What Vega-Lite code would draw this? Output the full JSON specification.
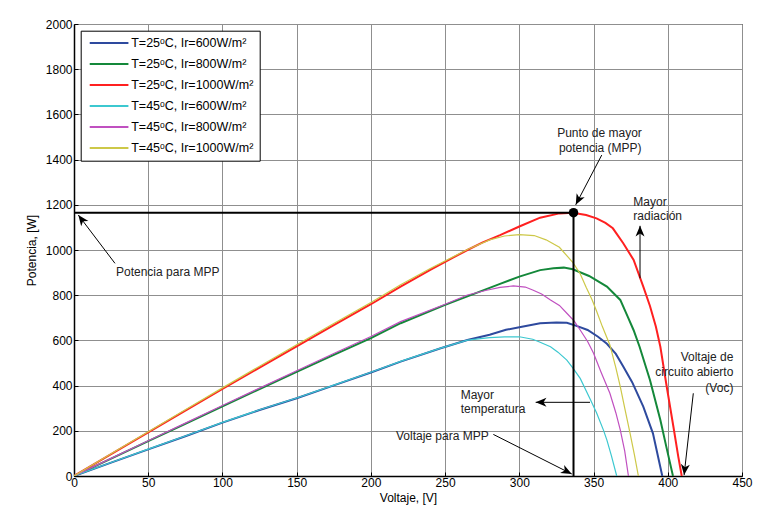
{
  "$schema": "https://vega.github.io/schema/vega-lite/v6.json",
  "width": 668,
  "height": 452,
  "autosize": {"type": "none"},
  "padding": {"left": 74, "top": 24, "right": 24, "bottom": 36},
  "background": "white",
  "config": {
    "font": "Liberation Sans",
    "view": {"stroke": "black", "strokeWidth": 1},
    "axis": {
      "grid": true, "gridColor": "#8f8f8f", "gridWidth": 1,
      "domainColor": "black", "domainWidth": 1.5,
      "tickColor": "black", "tickSize": -4,
      "labelFont": "Liberation Sans", "labelFontSize": 12, "labelColor": "black",
      "titleFont": "Liberation Sans", "titleFontSize": 12, "titleFontWeight": "normal", "titleColor": "black",
      "labelFlush": false
    },
    "legend": {
      "orient": "none", "legendX": 6.7, "legendY": 6.7,
      "symbolType": "M-1,0 L11,0", "symbolSize": 41.6, "symbolStrokeWidth": 2,
      "labelFont": "Liberation Sans", "labelFontSize": 12.5, "labelColor": "black",
      "strokeColor": "black", "fillColor": "white", "padding": 6, "rowPadding": 8, "labelOffset": 32
    }
  },
  "datasets": {
    "curves": [
      {"s":"T=25ᵒC, Ir=600W/m²","T":25,"V":0,"P":0},{"s":"T=25ᵒC, Ir=600W/m²","T":25,"V":25,"P":59},{"s":"T=25ᵒC, Ir=600W/m²","T":25,"V":50,"P":118},{"s":"T=25ᵒC, Ir=600W/m²","T":25,"V":75,"P":176},{"s":"T=25ᵒC, Ir=600W/m²","T":25,"V":100,"P":236},{"s":"T=25ᵒC, Ir=600W/m²","T":25,"V":125,"P":292},{"s":"T=25ᵒC, Ir=600W/m²","T":25,"V":150,"P":344},{"s":"T=25ᵒC, Ir=600W/m²","T":25,"V":175,"P":401},{"s":"T=25ᵒC, Ir=600W/m²","T":25,"V":200,"P":458},{"s":"T=25ᵒC, Ir=600W/m²","T":25,"V":220,"P":506},{"s":"T=25ᵒC, Ir=600W/m²","T":25,"V":247,"P":565},{"s":"T=25ᵒC, Ir=600W/m²","T":25,"V":265,"P":602},{"s":"T=25ᵒC, Ir=600W/m²","T":25,"V":280,"P":625},{"s":"T=25ᵒC, Ir=600W/m²","T":25,"V":291,"P":647},{"s":"T=25ᵒC, Ir=600W/m²","T":25,"V":300,"P":658},{"s":"T=25ᵒC, Ir=600W/m²","T":25,"V":314,"P":676},{"s":"T=25ᵒC, Ir=600W/m²","T":25,"V":325,"P":679},{"s":"T=25ᵒC, Ir=600W/m²","T":25,"V":332,"P":678},{"s":"T=25ᵒC, Ir=600W/m²","T":25,"V":339,"P":663},{"s":"T=25ᵒC, Ir=600W/m²","T":25,"V":346,"P":646},{"s":"T=25ᵒC, Ir=600W/m²","T":25,"V":353,"P":616},{"s":"T=25ᵒC, Ir=600W/m²","T":25,"V":359,"P":585},{"s":"T=25ᵒC, Ir=600W/m²","T":25,"V":365,"P":540},{"s":"T=25ᵒC, Ir=600W/m²","T":25,"V":370,"P":484},{"s":"T=25ᵒC, Ir=600W/m²","T":25,"V":376,"P":415},{"s":"T=25ᵒC, Ir=600W/m²","T":25,"V":383.5,"P":307},{"s":"T=25ᵒC, Ir=600W/m²","T":25,"V":390,"P":189},{"s":"T=25ᵒC, Ir=600W/m²","T":25,"V":396.3,"P":0},
      {"s":"T=25ᵒC, Ir=800W/m²","T":25,"V":0,"P":0},{"s":"T=25ᵒC, Ir=800W/m²","T":25,"V":25,"P":77},{"s":"T=25ᵒC, Ir=800W/m²","T":25,"V":50,"P":154},{"s":"T=25ᵒC, Ir=800W/m²","T":25,"V":75,"P":231},{"s":"T=25ᵒC, Ir=800W/m²","T":25,"V":100,"P":308},{"s":"T=25ᵒC, Ir=800W/m²","T":25,"V":125,"P":385},{"s":"T=25ᵒC, Ir=800W/m²","T":25,"V":150,"P":461},{"s":"T=25ᵒC, Ir=800W/m²","T":25,"V":175,"P":536},{"s":"T=25ᵒC, Ir=800W/m²","T":25,"V":200,"P":610},{"s":"T=25ᵒC, Ir=800W/m²","T":25,"V":220,"P":676},{"s":"T=25ᵒC, Ir=800W/m²","T":25,"V":250,"P":757},{"s":"T=25ᵒC, Ir=800W/m²","T":25,"V":265,"P":795},{"s":"T=25ᵒC, Ir=800W/m²","T":25,"V":287,"P":850},{"s":"T=25ᵒC, Ir=800W/m²","T":25,"V":300,"P":882},{"s":"T=25ᵒC, Ir=800W/m²","T":25,"V":314,"P":911},{"s":"T=25ᵒC, Ir=800W/m²","T":25,"V":323,"P":919},{"s":"T=25ᵒC, Ir=800W/m²","T":25,"V":330,"P":922},{"s":"T=25ᵒC, Ir=800W/m²","T":25,"V":336,"P":915},{"s":"T=25ᵒC, Ir=800W/m²","T":25,"V":347,"P":885},{"s":"T=25ᵒC, Ir=800W/m²","T":25,"V":359,"P":838},{"s":"T=25ᵒC, Ir=800W/m²","T":25,"V":368,"P":779},{"s":"T=25ᵒC, Ir=800W/m²","T":25,"V":373,"P":705},{"s":"T=25ᵒC, Ir=800W/m²","T":25,"V":377,"P":645},{"s":"T=25ᵒC, Ir=800W/m²","T":25,"V":381,"P":572},{"s":"T=25ᵒC, Ir=800W/m²","T":25,"V":388,"P":425},{"s":"T=25ᵒC, Ir=800W/m²","T":25,"V":395,"P":248},{"s":"T=25ᵒC, Ir=800W/m²","T":25,"V":399,"P":130},{"s":"T=25ᵒC, Ir=800W/m²","T":25,"V":403.5,"P":0},
      {"s":"T=25ᵒC, Ir=1000W/m²","T":25,"V":0,"P":0},{"s":"T=25ᵒC, Ir=1000W/m²","T":25,"V":25,"P":97},{"s":"T=25ᵒC, Ir=1000W/m²","T":25,"V":50,"P":193},{"s":"T=25ᵒC, Ir=1000W/m²","T":25,"V":75,"P":289},{"s":"T=25ᵒC, Ir=1000W/m²","T":25,"V":100,"P":385},{"s":"T=25ᵒC, Ir=1000W/m²","T":25,"V":125,"P":480},{"s":"T=25ᵒC, Ir=1000W/m²","T":25,"V":150,"P":574},{"s":"T=25ᵒC, Ir=1000W/m²","T":25,"V":175,"P":668},{"s":"T=25ᵒC, Ir=1000W/m²","T":25,"V":200,"P":760},{"s":"T=25ᵒC, Ir=1000W/m²","T":25,"V":220,"P":838},{"s":"T=25ᵒC, Ir=1000W/m²","T":25,"V":240,"P":912},{"s":"T=25ᵒC, Ir=1000W/m²","T":25,"V":255,"P":965},{"s":"T=25ᵒC, Ir=1000W/m²","T":25,"V":265,"P":1000},{"s":"T=25ᵒC, Ir=1000W/m²","T":25,"V":275,"P":1033},{"s":"T=25ᵒC, Ir=1000W/m²","T":25,"V":287,"P":1066},{"s":"T=25ᵒC, Ir=1000W/m²","T":25,"V":300,"P":1104},{"s":"T=25ᵒC, Ir=1000W/m²","T":25,"V":314,"P":1143},{"s":"T=25ᵒC, Ir=1000W/m²","T":25,"V":327,"P":1162},{"s":"T=25ᵒC, Ir=1000W/m²","T":25,"V":336,"P":1165},{"s":"T=25ᵒC, Ir=1000W/m²","T":25,"V":345,"P":1155},{"s":"T=25ᵒC, Ir=1000W/m²","T":25,"V":352,"P":1140},{"s":"T=25ᵒC, Ir=1000W/m²","T":25,"V":358,"P":1120},{"s":"T=25ᵒC, Ir=1000W/m²","T":25,"V":363,"P":1096},{"s":"T=25ᵒC, Ir=1000W/m²","T":25,"V":370,"P":1030},{"s":"T=25ᵒC, Ir=1000W/m²","T":25,"V":377,"P":956},{"s":"T=25ᵒC, Ir=1000W/m²","T":25,"V":383.5,"P":838},{"s":"T=25ᵒC, Ir=1000W/m²","T":25,"V":388,"P":752},{"s":"T=25ᵒC, Ir=1000W/m²","T":25,"V":392,"P":660},{"s":"T=25ᵒC, Ir=1000W/m²","T":25,"V":395,"P":572},{"s":"T=25ᵒC, Ir=1000W/m²","T":25,"V":399.3,"P":395},{"s":"T=25ᵒC, Ir=1000W/m²","T":25,"V":403.8,"P":218},{"s":"T=25ᵒC, Ir=1000W/m²","T":25,"V":407.1,"P":85},{"s":"T=25ᵒC, Ir=1000W/m²","T":25,"V":409.4,"P":0},
      {"s":"T=45ᵒC, Ir=600W/m²","T":45,"V":0,"P":0},{"s":"T=45ᵒC, Ir=600W/m²","T":45,"V":25,"P":60},{"s":"T=45ᵒC, Ir=600W/m²","T":45,"V":50,"P":119},{"s":"T=45ᵒC, Ir=600W/m²","T":45,"V":75,"P":177},{"s":"T=45ᵒC, Ir=600W/m²","T":45,"V":100,"P":237},{"s":"T=45ᵒC, Ir=600W/m²","T":45,"V":125,"P":293},{"s":"T=45ᵒC, Ir=600W/m²","T":45,"V":150,"P":345},{"s":"T=45ᵒC, Ir=600W/m²","T":45,"V":175,"P":402},{"s":"T=45ᵒC, Ir=600W/m²","T":45,"V":200,"P":459},{"s":"T=45ᵒC, Ir=600W/m²","T":45,"V":220,"P":507},{"s":"T=45ᵒC, Ir=600W/m²","T":45,"V":247,"P":566},{"s":"T=45ᵒC, Ir=600W/m²","T":45,"V":265,"P":601},{"s":"T=45ᵒC, Ir=600W/m²","T":45,"V":280,"P":612},{"s":"T=45ᵒC, Ir=600W/m²","T":45,"V":290,"P":616},{"s":"T=45ᵒC, Ir=600W/m²","T":45,"V":300,"P":616},{"s":"T=45ᵒC, Ir=600W/m²","T":45,"V":309,"P":605},{"s":"T=45ᵒC, Ir=600W/m²","T":45,"V":314,"P":592},{"s":"T=45ᵒC, Ir=600W/m²","T":45,"V":321,"P":572},{"s":"T=45ᵒC, Ir=600W/m²","T":45,"V":326,"P":548},{"s":"T=45ᵒC, Ir=600W/m²","T":45,"V":332,"P":513},{"s":"T=45ᵒC, Ir=600W/m²","T":45,"V":336,"P":478},{"s":"T=45ᵒC, Ir=600W/m²","T":45,"V":341,"P":432},{"s":"T=45ᵒC, Ir=600W/m²","T":45,"V":348,"P":336},{"s":"T=45ᵒC, Ir=600W/m²","T":45,"V":352,"P":280},{"s":"T=45ᵒC, Ir=600W/m²","T":45,"V":356.6,"P":204},{"s":"T=45ᵒC, Ir=600W/m²","T":45,"V":359,"P":159},{"s":"T=45ᵒC, Ir=600W/m²","T":45,"V":362,"P":90},{"s":"T=45ᵒC, Ir=600W/m²","T":45,"V":365.6,"P":0},
      {"s":"T=45ᵒC, Ir=800W/m²","T":45,"V":0,"P":0},{"s":"T=45ᵒC, Ir=800W/m²","T":45,"V":25,"P":78},{"s":"T=45ᵒC, Ir=800W/m²","T":45,"V":50,"P":156},{"s":"T=45ᵒC, Ir=800W/m²","T":45,"V":75,"P":234},{"s":"T=45ᵒC, Ir=800W/m²","T":45,"V":100,"P":312},{"s":"T=45ᵒC, Ir=800W/m²","T":45,"V":125,"P":389},{"s":"T=45ᵒC, Ir=800W/m²","T":45,"V":150,"P":466},{"s":"T=45ᵒC, Ir=800W/m²","T":45,"V":175,"P":542},{"s":"T=45ᵒC, Ir=800W/m²","T":45,"V":200,"P":617},{"s":"T=45ᵒC, Ir=800W/m²","T":45,"V":220,"P":683},{"s":"T=45ᵒC, Ir=800W/m²","T":45,"V":250,"P":760},{"s":"T=45ᵒC, Ir=800W/m²","T":45,"V":265,"P":801},{"s":"T=45ᵒC, Ir=800W/m²","T":45,"V":278,"P":822},{"s":"T=45ᵒC, Ir=800W/m²","T":45,"V":287,"P":835},{"s":"T=45ᵒC, Ir=800W/m²","T":45,"V":296,"P":841},{"s":"T=45ᵒC, Ir=800W/m²","T":45,"V":304,"P":836},{"s":"T=45ᵒC, Ir=800W/m²","T":45,"V":309,"P":823},{"s":"T=45ᵒC, Ir=800W/m²","T":45,"V":315,"P":805},{"s":"T=45ᵒC, Ir=800W/m²","T":45,"V":321,"P":779},{"s":"T=45ᵒC, Ir=800W/m²","T":45,"V":327,"P":755},{"s":"T=45ᵒC, Ir=800W/m²","T":45,"V":332,"P":720},{"s":"T=45ᵒC, Ir=800W/m²","T":45,"V":337,"P":685},{"s":"T=45ᵒC, Ir=800W/m²","T":45,"V":341,"P":646},{"s":"T=45ᵒC, Ir=800W/m²","T":45,"V":346,"P":595},{"s":"T=45ᵒC, Ir=800W/m²","T":45,"V":350,"P":543},{"s":"T=45ᵒC, Ir=800W/m²","T":45,"V":355,"P":460},{"s":"T=45ᵒC, Ir=800W/m²","T":45,"V":361,"P":366},{"s":"T=45ᵒC, Ir=800W/m²","T":45,"V":365,"P":280},{"s":"T=45ᵒC, Ir=800W/m²","T":45,"V":368,"P":204},{"s":"T=45ᵒC, Ir=800W/m²","T":45,"V":371,"P":110},{"s":"T=45ᵒC, Ir=800W/m²","T":45,"V":373.5,"P":0},
      {"s":"T=45ᵒC, Ir=1000W/m²","T":45,"V":0,"P":0},{"s":"T=45ᵒC, Ir=1000W/m²","T":45,"V":25,"P":98},{"s":"T=45ᵒC, Ir=1000W/m²","T":45,"V":50,"P":196},{"s":"T=45ᵒC, Ir=1000W/m²","T":45,"V":75,"P":293},{"s":"T=45ᵒC, Ir=1000W/m²","T":45,"V":100,"P":390},{"s":"T=45ᵒC, Ir=1000W/m²","T":45,"V":125,"P":486},{"s":"T=45ᵒC, Ir=1000W/m²","T":45,"V":150,"P":581},{"s":"T=45ᵒC, Ir=1000W/m²","T":45,"V":175,"P":675},{"s":"T=45ᵒC, Ir=1000W/m²","T":45,"V":200,"P":768},{"s":"T=45ᵒC, Ir=1000W/m²","T":45,"V":220,"P":846},{"s":"T=45ᵒC, Ir=1000W/m²","T":45,"V":240,"P":918},{"s":"T=45ᵒC, Ir=1000W/m²","T":45,"V":265,"P":1002},{"s":"T=45ᵒC, Ir=1000W/m²","T":45,"V":280,"P":1045},{"s":"T=45ᵒC, Ir=1000W/m²","T":45,"V":290,"P":1062},{"s":"T=45ᵒC, Ir=1000W/m²","T":45,"V":300,"P":1068},{"s":"T=45ᵒC, Ir=1000W/m²","T":45,"V":310,"P":1064},{"s":"T=45ᵒC, Ir=1000W/m²","T":45,"V":318,"P":1045},{"s":"T=45ᵒC, Ir=1000W/m²","T":45,"V":327,"P":1012},{"s":"T=45ᵒC, Ir=1000W/m²","T":45,"V":336,"P":945},{"s":"T=45ᵒC, Ir=1000W/m²","T":45,"V":341,"P":895},{"s":"T=45ᵒC, Ir=1000W/m²","T":45,"V":345,"P":835},{"s":"T=45ᵒC, Ir=1000W/m²","T":45,"V":349,"P":780},{"s":"T=45ᵒC, Ir=1000W/m²","T":45,"V":352,"P":730},{"s":"T=45ᵒC, Ir=1000W/m²","T":45,"V":356,"P":660},{"s":"T=45ᵒC, Ir=1000W/m²","T":45,"V":361,"P":580},{"s":"T=45ᵒC, Ir=1000W/m²","T":45,"V":365,"P":480},{"s":"T=45ᵒC, Ir=1000W/m²","T":45,"V":368,"P":395},{"s":"T=45ᵒC, Ir=1000W/m²","T":45,"V":371,"P":300},{"s":"T=45ᵒC, Ir=1000W/m²","T":45,"V":374.6,"P":189},{"s":"T=45ᵒC, Ir=1000W/m²","T":45,"V":377.5,"P":95},{"s":"T=45ᵒC, Ir=1000W/m²","T":45,"V":380.2,"P":0}
    ],
    "mpp": [
      {"V":0,"P":1165,"V2":336.5,"P2":1165},
      {"V":336.5,"P":0,"V2":336.5,"P2":1165}
    ],
    "dot": [{"V":336.5,"P":1165}],
    "arrows": [
      {"V":355.5,"P":1420,"V2":338,"P2":1200},
      {"V":381.3,"P":875,"V2":381.3,"P2":1107},
      {"V":347.6,"P":326,"V2":311,"P2":326},
      {"V":282.5,"P":184,"V2":335.3,"P2":9},
      {"V":27.6,"P":941,"V2":2.9,"P2":1155},
      {"V":417.2,"P":366,"V2":411,"P2":4}
    ],
    "heads": [
      {"V":338,"P":1200,"ang":207},
      {"V":381.3,"P":1107,"ang":0},
      {"V":311,"P":326,"ang":270},
      {"V":335.3,"P":9,"ang":117},
      {"V":2.9,"P":1155,"ang":323},
      {"V":411,"P":4,"ang":186.5}
    ],
    "txtL": [
      {"V":376.8,"P":1214,"t":"Mayor"},
      {"V":376.8,"P":1150,"t":"radiación"},
      {"V":260.5,"P":358,"t":"Mayor"},
      {"V":260.5,"P":295,"t":"temperatura"},
      {"V":216.9,"P":178,"t":"Voltaje para MPP"},
      {"V":28.3,"P":904,"t":"Potencia para MPP"}
    ],
    "txtC": [
      {"V":354,"P":1518,"t":"Punto de mayor"},
      {"V":354.5,"P":1451,"t":"potencia (MPP)"}
    ],
    "txtR": [
      {"V":444.2,"P":528,"t":"Voltaje de"},
      {"V":444.2,"P":459,"t":"circuito abierto"},
      {"V":444.2,"P":391,"t":"(Voc)"}
    ]
  },
  "encoding": {
    "x": {"field":"V","type":"quantitative","title":"Voltaje, [V]",
      "scale":{"domain":[0,450],"nice":false,"zero":false},
      "axis":{"values":[0,50,100,150,200,250,300,350,400,450],"format":"d","labelPadding":5,"titlePadding":4}},
    "y": {"field":"P","type":"quantitative","title":"Potencia, [W]",
      "scale":{"domain":[0,2000],"nice":false,"zero":false},
      "axis":{"values":[0,200,400,600,800,1000,1200,1400,1600,1800,2000],"format":"d","labelPadding":6,"titlePadding":7}}
  },
  "layer": [
    {
      "data": {"name":"curves"},
      "transform": [{"filter":"datum.T == 25"}],
      "mark": {"type":"line","strokeWidth":2,"clip":true},
      "encoding": {
        "color": {"field":"s","type":"nominal","title":null,
          "scale":{"domain":["T=25ᵒC, Ir=600W/m²","T=25ᵒC, Ir=800W/m²","T=25ᵒC, Ir=1000W/m²","T=45ᵒC, Ir=600W/m²","T=45ᵒC, Ir=800W/m²","T=45ᵒC, Ir=1000W/m²"],
                   "range":["#2e4a9e","#14883a","#ff2020","#3cc8d0","#c050c0","#cdc848"]}}
      }
    },
    {
      "data": {"name":"curves"},
      "transform": [{"filter":"datum.T == 45"}],
      "mark": {"type":"line","strokeWidth":1.2,"clip":true},
      "encoding": {
        "color": {"field":"s","type":"nominal","title":null}
      }
    },
    {
      "data": {"name":"mpp"},
      "mark": {"type":"rule","color":"black","strokeWidth":2},
      "encoding": {"x2":{"field":"V2"},"y2":{"field":"P2"}}
    },
    {
      "data": {"name":"arrows"},
      "mark": {"type":"rule","color":"black","strokeWidth":1},
      "encoding": {"x2":{"field":"V2"},"y2":{"field":"P2"}}
    },
    {
      "data": {"name":"heads"},
      "mark": {"type":"point","shape":"M0,0 L0.75,1.8 L0,1.3 L-0.75,1.8 Z","filled":true,"color":"black","size":144,"opacity":1},
      "encoding": {"angle":{"field":"ang","type":"quantitative","scale":null}}
    },
    {
      "data": {"name":"dot"},
      "mark": {"type":"point","shape":"circle","filled":true,"color":"black","size":90,"opacity":1}
    },
    {
      "data": {"name":"txtL"},
      "mark": {"type":"text","align":"left","baseline":"middle","font":"Liberation Sans","fontSize":12,"color":"#222"},
      "encoding": {"text":{"field":"t"}}
    },
    {
      "data": {"name":"txtC"},
      "mark": {"type":"text","align":"center","baseline":"middle","font":"Liberation Sans","fontSize":12,"color":"#222"},
      "encoding": {"text":{"field":"t"}}
    },
    {
      "data": {"name":"txtR"},
      "mark": {"type":"text","align":"right","baseline":"middle","font":"Liberation Sans","fontSize":12,"color":"#222"},
      "encoding": {"text":{"field":"t"}}
    }
  ]
}
